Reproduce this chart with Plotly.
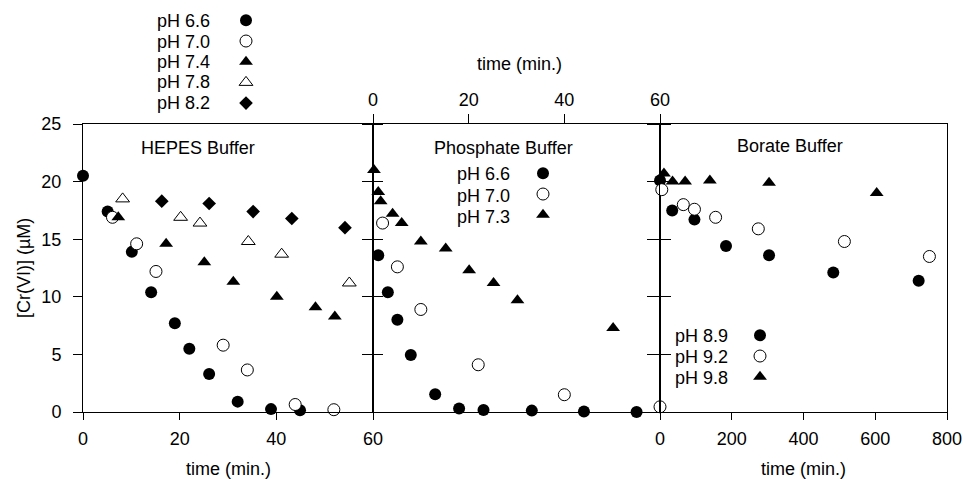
import plotly.graph_objects as go

# ---------------- data ----------------
# HEPES buffer (time in min)
hepes_labels = ["pH 6.6", "pH 7.0", "pH 7.4", "pH 7.8", "pH 8.2"]
hepes_t_66 = [0, 5.1, 10.1, 14.1, 19.0, 22.0, 26.1, 32.0, 38.9, 44.9]
hepes_c_66 = [20.5, 17.4, 13.9, 10.4, 7.7, 5.5, 3.3, 0.9, 0.25, 0.15]
hepes_t_70 = [6.1, 11.1, 15.1, 29.0, 34.0, 43.9, 51.9]
hepes_c_70 = [16.9, 14.6, 12.2, 5.8, 3.65, 0.65, 0.2]
hepes_t_74 = [7.3, 17.2, 25.1, 31.1, 40.1, 48.1, 52.1]
hepes_c_74 = [16.9, 14.6, 13.0, 11.3, 10.0, 9.1, 8.3]
hepes_t_78 = [8.2, 20.2, 24.2, 34.2, 41.1, 55.1]
hepes_c_78 = [18.5, 16.9, 16.4, 14.8, 13.7, 11.2]
hepes_t_82 = [16.3, 26.1, 35.2, 43.2, 54.2]
hepes_c_82 = [18.3, 18.1, 17.4, 16.8, 16.0]

# Phosphate buffer (time in min, top axis)
phos_labels = ["pH 6.6", "pH 7.0", "pH 7.3"]
phos_t_66 = [1.1, 3.1, 5.1, 7.9, 13.0, 18.0, 23.1, 33.2, 44.1, 55.1]
phos_c_66 = [13.6, 10.4, 8.0, 4.95, 1.55, 0.3, 0.17, 0.12, 0.05, 0.0]
phos_t_70 = [2.0, 5.1, 10.0, 22.0, 40.0, 60.0]
phos_c_70 = [16.4, 12.6, 8.9, 4.1, 1.5, 0.45]
phos_t_73 = [0.2, 1.1, 1.6, 4.1, 6.0, 10.0, 15.2, 20.1, 25.2, 30.2, 50.2]
phos_c_73 = [21.0, 19.1, 18.3, 17.2, 16.4, 14.8, 14.2, 12.3, 11.2, 9.7, 7.3]

# Borate buffer (time in min)
bor_labels = ["pH 8.9", "pH 9.2", "pH 9.8"]
bor_t_89 = [0, 34, 96, 184, 304, 483, 721]
bor_c_89 = [20.1, 17.5, 16.7, 14.4, 13.6, 12.1, 11.4]
bor_t_92 = [5, 65, 96, 155, 274, 514, 751]
bor_c_92 = [19.3, 18.0, 17.6, 16.9, 15.9, 14.8, 13.5]
bor_t_98 = [11, 35, 70, 139, 304, 604]
bor_c_98 = [20.7, 20.0, 20.0, 20.1, 19.9, 19.0]

panel_titles = ["HEPES Buffer", "Phosphate Buffer", "Borate Buffer"]
x_title = "time (min.)"
y_title = "[Cr(VI)] (µM)"

# ---------------- layout geometry (page pixels) ----------------
W, H = 964, 479
L, R, T, B = 83, 947, 124, 412   # plot box in pixels
d1 = (373 - L) / (R - L)
d2 = (660 - L) / (R - L)


def px_x(p):
    return (p - L) / (R - L)


def px_y(p):
    return 1 - (p - T) / (B - T)


def cx(p):
    return p / W


def cy(p):
    return 1 - p / H


FONT = "Liberation Sans, Arial, sans-serif"
BLACK = "black"

styles = {
    "filled_circle": dict(symbol="circle", size=12, color=BLACK, line=dict(width=0)),
    "open_circle": dict(symbol="circle", size=12, color="white", line=dict(width=1, color=BLACK)),
    "filled_tri": dict(symbol="triangle-up", size=12, color=BLACK, line=dict(width=0)),
    "open_tri": dict(symbol="triangle-up-open", size=12, color=BLACK, line=dict(width=1, color=BLACK)),
    "diamond": dict(symbol="diamond", size=10.5, color=BLACK, line=dict(width=0)),
}

fig = go.Figure()

hepes_series = [
    (hepes_t_66, hepes_c_66, "filled_circle"),
    (hepes_t_70, hepes_c_70, "open_circle"),
    (hepes_t_74, hepes_c_74, "filled_tri"),
    (hepes_t_78, hepes_c_78, "open_tri"),
    (hepes_t_82, hepes_c_82, "diamond"),
]
for (t, c, st), lab in zip(hepes_series, hepes_labels):
    fig.add_trace(go.Scatter(x=t, y=c, mode="markers", marker=styles[st], name="",
                             hovertext=lab, xaxis="x", yaxis="y", legend="legend",
                             cliponaxis=False))

phos_series = [
    (phos_t_66, phos_c_66, "filled_circle"),
    (phos_t_70, phos_c_70, "open_circle"),
    (phos_t_73, phos_c_73, "filled_tri"),
]
for (t, c, st), lab in zip(phos_series, phos_labels):
    fig.add_trace(go.Scatter(x=t, y=c, mode="markers", marker=styles[st], name="",
                             hovertext=lab, xaxis="x2", yaxis="y2", legend="legend2",
                             cliponaxis=False))

bor_series = [
    (bor_t_89, bor_c_89, "filled_circle"),
    (bor_t_92, bor_c_92, "open_circle"),
    (bor_t_98, bor_c_98, "filled_tri"),
]
for (t, c, st), lab in zip(bor_series, bor_labels):
    fig.add_trace(go.Scatter(x=t, y=c, mode="markers", marker=styles[st], name="",
                             hovertext=lab, xaxis="x3", yaxis="y3", legend="legend3",
                             cliponaxis=False))

axis_common = dict(showline=True, linecolor=BLACK, linewidth=1, ticks="outside",
                   tickcolor=BLACK, tickwidth=1, showgrid=False, zeroline=False,
                   tickangle=0, automargin=False,
                   tickfont=dict(family=FONT, size=18, color=BLACK))

yrange = [0, 25]
txt_font = dict(family=FONT, size=18, color=BLACK)

annotations = []
# panel titles
for txt, (ax_, ay_) in zip(panel_titles, [(198, 148), (503, 148), (790, 146)]):
    annotations.append(dict(text=txt, x=px_x(ax_), y=px_y(ay_), xref="paper", yref="paper",
                            showarrow=False, xanchor="center", yanchor="middle", font=txt_font))

# axis titles
for (ax_, ay_) in [(228, 469), (803, 469), (519, 64)]:
    annotations.append(dict(text=x_title, x=px_x(ax_), y=px_y(ay_), xref="paper", yref="paper",
                            showarrow=False, xanchor="center", yanchor="middle", font=txt_font))
annotations.append(dict(text=y_title, x=px_x(24), y=px_y(268), xref="paper", yref="paper",
                        showarrow=False, xanchor="center", yanchor="middle", textangle=-90,
                        font=txt_font))


# legend text labels (symbols come from the native legends)
def legend_text(labels, x_left, y_first, step):
    for i, lab in enumerate(labels):
        annotations.append(dict(text=lab, x=px_x(x_left), y=px_y(y_first + i * step),
                                xref="paper", yref="paper", showarrow=False,
                                xanchor="left", yanchor="middle", font=txt_font))


legend_text(hepes_labels, 155, 21, 20.5)
legend_text(phos_labels, 455, 174, 21.5)
legend_text(bor_labels, 673, 336, 21)

legend_common = dict(bgcolor="rgba(0,0,0,0)", borderwidth=0, xref="container", yref="container",
                     xanchor="left", yanchor="top", font=dict(family=FONT, size=13.6),
                     itemwidth=30, tracegroupgap=0)

fig.update_layout(
    width=W, height=H,
    margin=dict(l=L, r=W - R, t=T, b=H - B, pad=0, autoexpand=False),
    paper_bgcolor="white", plot_bgcolor="white",
    showlegend=True,
    font=dict(family=FONT, size=18, color=BLACK),
    xaxis=dict(axis_common, domain=[0, d1], range=[0, 60], tickvals=[0, 20, 40, 60],
               anchor="y", mirror=True, ticklen=7, ticklabelstandoff=3),
    xaxis2=dict(axis_common, domain=[d1, d2], range=[0, 60], tickvals=[0, 20, 40, 60],
                anchor="y2", side="top", mirror=True, ticklen=9, ticklabelstandoff=1),
    xaxis3=dict(axis_common, domain=[d2, 1], range=[0, 800], tickvals=[0, 200, 400, 600, 800],
                anchor="y3", mirror=True, ticklen=7, ticklabelstandoff=3),
    yaxis=dict(axis_common, domain=[0, 1], range=yrange, tickvals=[0, 5, 10, 15, 20, 25],
               anchor="x", mirror="ticks", ticklen=9, ticklabelstandoff=8),
    yaxis2=dict(axis_common, domain=[0, 1], range=yrange, tickvals=[0, 5, 10, 15, 20, 25],
                anchor="x2", matches="y", mirror="ticks", ticklen=10, showticklabels=False),
    yaxis3=dict(axis_common, domain=[0, 1], range=yrange, tickvals=[0, 5, 10, 15, 20, 25],
                anchor="x3", matches="y", mirror=True, ticklen=12, showticklabels=False),
    legend=dict(legend_common, x=cx(246 - 20), y=cy(20 - 15)),
    legend2=dict(legend_common, x=cx(543 - 20), y=cy(173 - 15)),
    legend3=dict(legend_common, x=cx(760 - 20), y=cy(335 - 15)),
    annotations=annotations,
)

fig.write_html("out.html",
               config={"displayModeBar": False},
               post_script="document.documentElement.style.overflow='hidden';"
                           "document.body.style.margin='0';"
                           "document.body.style.overflow='hidden';")
